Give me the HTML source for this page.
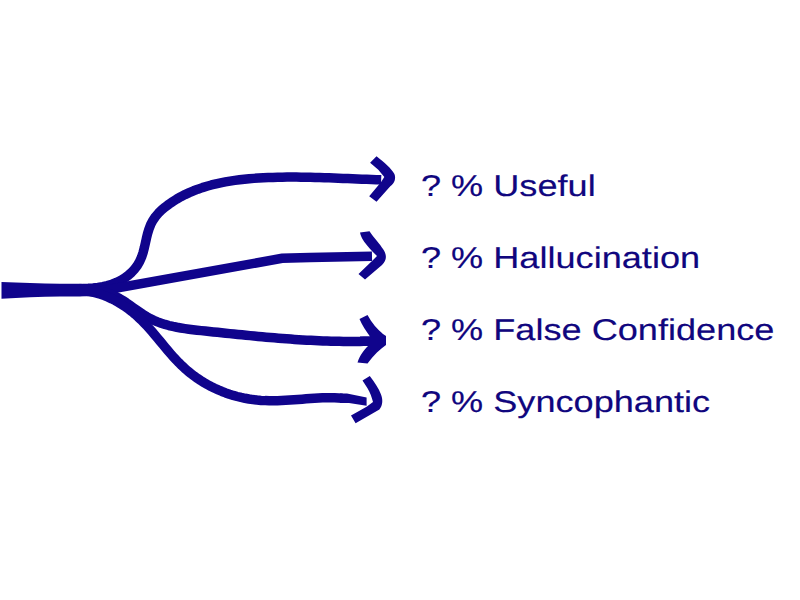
<!DOCTYPE html>
<html><head><meta charset="utf-8">
<style>
html,body{margin:0;padding:0;background:#fff;width:800px;height:600px;overflow:hidden}
svg{position:absolute;left:0;top:0}
.t{position:absolute;left:421px;font-family:"Liberation Sans",sans-serif;font-size:30px;white-space:pre;color:#10067e;-webkit-text-stroke:0.15px #10067e;transform:scaleX(1.204);transform-origin:0 0;line-height:normal;text-rendering:geometricPrecision}
</style></head><body>
<svg width="800" height="600" viewBox="0 0 800 600">
<g fill="none" stroke="#10048c" stroke-width="9.5" stroke-linecap="butt" stroke-linejoin="round">
<path d="M60.07,289.02 L64.48,288.85 L69.04,288.75 L73.73,288.69 L78.50,288.63 L83.34,288.51 L88.21,288.29 L93.08,287.94 L97.91,287.40 L102.69,286.63 L107.37,285.59 L111.92,284.23 L116.32,282.53 L120.52,280.49 L124.50,278.12 L128.21,275.42 L131.62,272.39 L134.70,269.05 L137.40,265.39 L139.69,261.43 L141.54,257.17 L143.03,252.67 L144.26,248.00 L145.35,243.22 L146.41,238.43 L147.57,233.70 L148.94,229.09 L150.64,224.68 L152.77,220.56 L155.38,216.74 L158.39,213.22 L161.73,209.95 L165.31,206.92 L169.05,204.10 L172.91,201.46 L176.86,199.00 L180.90,196.71 L185.04,194.59 L189.26,192.62 L193.55,190.81 L197.92,189.15 L202.35,187.63 L206.84,186.24 L211.39,184.98 L215.99,183.84 L220.63,182.82 L225.31,181.91 L230.02,181.10 L234.75,180.38 L239.51,179.76 L244.29,179.22 L249.07,178.75 L253.86,178.36 L258.64,178.03 L263.42,177.77 L268.19,177.55 L272.93,177.38 L277.66,177.25 L282.37,177.16 L287.07,177.10 L291.75,177.08 L296.42,177.09 L301.09,177.13 L305.74,177.20 L310.39,177.29 L315.04,177.41 L319.69,177.54 L324.35,177.68 L329.00,177.85 L333.67,178.02 L338.34,178.20 L343.02,178.39 L347.72,178.59 L352.44,178.78 L357.17,178.98 L361.92,179.17 L366.69,179.35 L371.49,179.53 L376.32,179.69 L381.17,179.85"/>
<path d="M60,290 L95,291.9 L282,258.3 L310,257.5 L372,256.2" stroke-linejoin="miter"/>
<path d="M59.97,290.57 L64.05,290.19 L68.17,289.88 L72.30,289.64 L76.44,289.50 L80.58,289.46 L84.71,289.55 L88.82,289.77 L92.89,290.15 L96.92,290.70 L100.89,291.44 L104.79,292.39 L108.62,293.55 L112.36,294.95 L116.00,296.60 L119.55,298.49 L123.01,300.58 L126.42,302.81 L129.78,305.15 L133.13,307.53 L136.47,309.92 L139.84,312.27 L143.23,314.53 L146.68,316.64 L150.21,318.58 L153.82,320.31 L157.50,321.86 L161.25,323.23 L165.07,324.44 L168.94,325.51 L172.86,326.45 L176.82,327.27 L180.82,327.99 L184.85,328.63 L188.91,329.20 L192.99,329.71 L197.08,330.18 L201.18,330.62 L205.27,331.05 L209.36,331.48 L213.45,331.91 L217.54,332.33 L221.61,332.76 L225.69,333.18 L229.76,333.61 L233.83,334.02 L237.89,334.44 L241.95,334.84 L246.01,335.25 L250.06,335.64 L254.12,336.03 L258.17,336.42 L262.22,336.79 L266.27,337.15 L270.32,337.51 L274.37,337.85 L278.42,338.18 L282.46,338.51 L286.51,338.81 L290.56,339.11 L294.61,339.39 L298.66,339.66 L302.71,339.91 L306.76,340.14 L310.82,340.36 L314.88,340.56 L318.94,340.74 L323.00,340.91 L327.07,341.05 L331.14,341.17 L335.21,341.28 L339.29,341.36 L343.37,341.42 L347.46,341.45 L351.55,341.46 L355.64,341.45 L359.75,341.41 L363.85,341.35 L367.97,341.26 L372.09,341.14"/>
<path d="M59.84,290.58 L64.15,290.07 L68.42,289.76 L72.63,289.66 L76.79,289.77 L80.90,290.06 L84.96,290.55 L88.96,291.22 L92.91,292.07 L96.79,293.10 L100.61,294.29 L104.37,295.64 L108.07,297.15 L111.69,298.82 L115.25,300.63 L118.74,302.58 L122.15,304.67 L125.49,306.89 L128.75,309.23 L131.93,311.70 L135.04,314.28 L138.06,316.96 L140.99,319.75 L143.86,322.64 L146.65,325.60 L149.40,328.63 L152.09,331.71 L154.76,334.83 L157.40,337.98 L160.02,341.15 L162.64,344.33 L165.27,347.49 L167.92,350.63 L170.59,353.74 L173.30,356.80 L176.05,359.80 L178.87,362.73 L181.75,365.58 L184.71,368.33 L187.75,370.97 L190.86,373.51 L194.06,375.95 L197.32,378.27 L200.66,380.49 L204.06,382.60 L207.53,384.60 L211.05,386.49 L214.63,388.27 L218.27,389.93 L221.96,391.48 L225.70,392.91 L229.49,394.23 L233.31,395.42 L237.18,396.50 L241.09,397.46 L245.02,398.29 L248.99,399.01 L252.99,399.59 L257.01,400.06 L261.06,400.40 L265.12,400.62 L269.20,400.72 L273.30,400.73 L277.40,400.66 L281.52,400.51 L285.64,400.31 L289.76,400.06 L293.89,399.77 L298.01,399.46 L302.12,399.14 L306.23,398.83 L310.33,398.53 L314.41,398.27 L318.48,398.04 L322.53,397.87 L326.56,397.76 L330.57,397.73 L334.55,397.80 L338.50,397.96 L342.41,398.25"/>
</g>
<g fill="#10048c" stroke="none">
<path d="M1.5,282 C20,282.5 40,283.6 60,283.8 L80,283.7 L100,285.5 L100,295 L80,296.5 L60,296.5 C40,296.6 20,297.6 1.5,298.8 Z"/>
<path d="M370.1,162.8 L376.5,156.2 C385,163 391,168 394.4,173.9 C396,178 395,183 390.3,186.2 L376.5,201.8 L369.2,196.3 L381.1,182.1 L384.3,177 L378.3,169.7 Z"/>
<path d="M360,232.5 L369.5,231.2 C374,238 380,244 383,249 C387,255 387,260 382,265 L365,279.5 L358.5,274 L372,261 L377,256 C373,252 370,249 368,246.5 C365,243 361,238 360,232.5 Z"/>
<path d="M359.5,319 L367.5,315 C372,323 377,329 383,334 L386,336 L386,345 C380,349 374,355 367.5,363.5 L357.5,362.5 C360,355 364,350 368,346 L360,346 L360,336.5 L370,336.5 C366,331 362,325 359.5,319 Z"/>
<path d="M362.5,380.5 L369.8,376 C375,383 379,389 380.8,393.9 C383,399 383,405 379.4,409.4 L355.6,423.2 L351,415.4 L366.6,406.7 L373,402.1 C372,398 370,392 367.5,388.3 Z"/>
<path d="M340,393.5 L347,393.4 L366.6,397.6 L366.6,405.8 L349,403 L340,403 Z"/>
</g>
</svg>
<div class="t" style="top:170px">? % Useful</div>
<div class="t" style="top:242px">? % Hallucination</div>
<div class="t" style="top:314px">? % False Confidence</div>
<div class="t" style="top:386px">? % Syncophantic</div>
</body></html>
